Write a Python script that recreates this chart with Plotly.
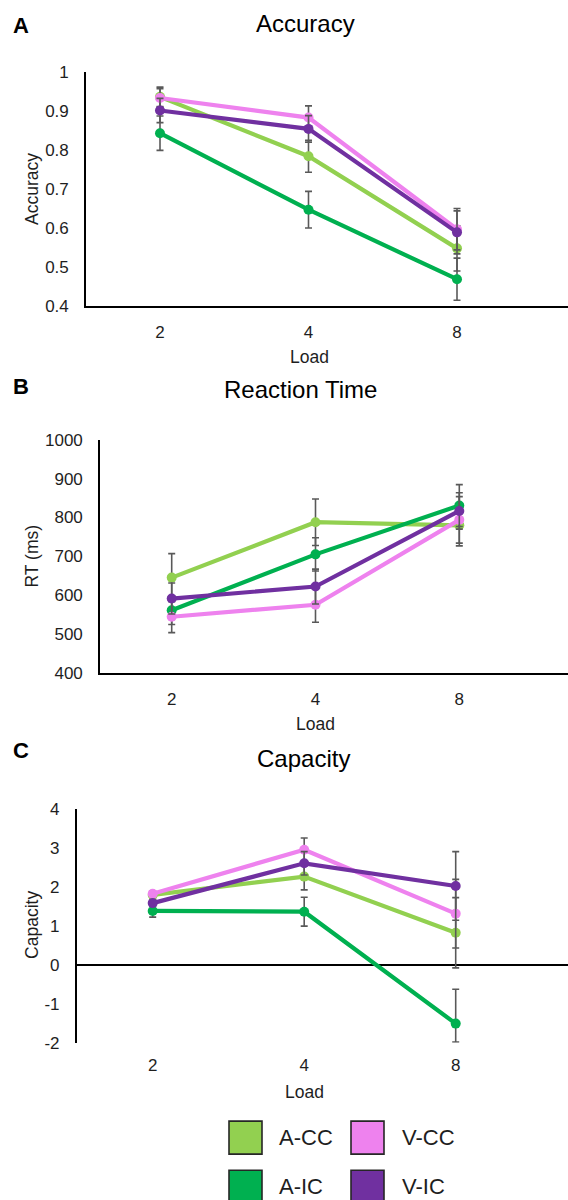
import plotly.graph_objects as go

W, H = 568, 1200
FONT = "Liberation Sans, Arial, sans-serif"
TXT = "#1e1e1e"

# ---------------- data ----------------
loads = ["2", "4", "8"]
series_names = ["A-CC", "A-IC", "V-CC", "V-IC"]
series_colors = ["#92D050", "#00B050", "#EE82EE", "#7030A0"]

acc_vals = {
    "A-CC": [0.936, 0.784, 0.548],
    "A-IC": [0.843, 0.647, 0.469],
    "V-CC": [0.933, 0.883, 0.597],
    "V-IC": [0.901, 0.854, 0.589],
}
acc_err = {
    "A-CC": [0.025, 0.041, 0.058],
    "A-IC": [0.044, 0.047, 0.054],
    "V-CC": [0.024, 0.030, 0.053],
    "V-IC": [0.031, 0.034, 0.055],
}
rt_vals = {
    "A-CC": [645, 788, 780],
    "A-IC": [561, 705, 831],
    "V-CC": [544, 575, 794],
    "V-IC": [591, 622, 817],
}
rt_err = {
    "A-CC": [62, 60, 53],
    "A-IC": [37, 43, 54],
    "V-CC": [41, 45, 60],
    "V-IC": [40, 45, 47],
}
cap_vals = {
    "A-CC": [1.79, 2.26, 0.82],
    "A-IC": [1.38, 1.36, -1.51],
    "V-CC": [1.82, 2.95, 1.31],
    "V-IC": [1.58, 2.60, 2.02],
}
cap_err_plus = {
    "A-CC": [0.10, 0.34, 0.90],
    "A-IC": [0.16, 0.37, 0.88],
    "V-CC": [0.05, 0.30, 0.88],
    "V-IC": [0.08, 0.30, 0.88],
}
cap_err_minus = {
    "A-CC": [0.10, 0.34, 0.90],
    "A-IC": [0.16, 0.37, 0.47],
    "V-CC": [0.05, 0.30, 0.88],
    "V-IC": [0.08, 0.30, 0.88],
}

acc_ticks = [0.4, 0.5, 0.6, 0.7, 0.8, 0.9, 1.0]
acc_ticktext = ["0.4", "0.5", "0.6", "0.7", "0.8", "0.9", "1"]
rt_ticks = [400, 500, 600, 700, 800, 900, 1000]
rt_ticktext = ["400", "500", "600", "700", "800", "900", "1000"]
cap_ticks = [-2, -1, 0, 1, 2, 3, 4]
cap_ticktext = ["-2", "-1", "0", "1", "2", "3", "4"]

panel_letters = ["A", "B", "C"]
panel_titles = ["Accuracy", "Reaction Time", "Capacity"]
y_titles = ["Accuracy", "RT (ms)", "Capacity"]
x_title = "Load"

# ---------------- layout geometry (pixels) ----------------
S = 0.983  # vertical calibration

def px(x):
    return x / W

def py(y):
    return 1 - (600 + (y - 600) / S) / H

# per panel: axis-left px, first category px, spacing px, top px, bottom px
geo = [
    dict(left=86, c0=160, sp=148.5, top=73, bot=307),
    dict(left=100, c0=171.7, sp=143.8, top=440.7, bot=673),
    dict(left=76.7, c0=152.7, sp=151.5, top=809, bot=1042.7),
]

fig = go.Figure()

datasets = [
    (acc_vals, acc_err, acc_err, [0.4, 1.0], acc_ticks, acc_ticktext),
    (rt_vals, rt_err, rt_err, [400, 1000], rt_ticks, rt_ticktext),
    (cap_vals, cap_err_plus, cap_err_minus, [-2, 4], cap_ticks, cap_ticktext),
]

xpos = list(range(len(loads)))

for i, (vals, ep, em, yr, tv, tt) in enumerate(datasets):
    ax = "" if i == 0 else str(i + 1)
    for name, col in zip(series_names, series_colors):
        fig.add_trace(go.Scatter(
            x=xpos, y=vals[name], mode="lines+markers", name=name,
            line=dict(color=col, width=4.2),
            marker=dict(color=col, size=10),
            error_y=dict(type="data", array=ep[name], arrayminus=em[name],
                         symmetric=False, color="#595959", thickness=1.6, width=3.5),
            xaxis="x" + ax, yaxis="y" + ax, showlegend=False,
        ))
    g = geo[i]
    xr_right = (W - g["c0"]) / g["sp"]
    xr_left = (g["left"] - g["c0"]) / g["sp"]
    is_cap = i == 2
    fig.update_layout(**{
        "xaxis" + ax: dict(
            domain=[px(g["left"]), 1.0], range=[xr_left, xr_right],
            tickvals=xpos, ticktext=loads, showline=not is_cap, linecolor="black",
            linewidth=1.6, showgrid=False, zeroline=False, ticks="",
            tickfont=dict(family=FONT, size=17, color=TXT),
            anchor="y" + ax, fixedrange=True, ticklabelstandoff=10,
        ),
        "yaxis" + ax: dict(
            domain=[py(g["bot"]), py(g["top"])], range=yr,
            tickvals=tv, ticktext=tt, showline=True, linecolor="black",
            linewidth=1.6, showgrid=False,
            zeroline=is_cap, zerolinecolor="black", zerolinewidth=1.6,
            ticks="", tickfont=dict(family=FONT, size=17, color=TXT),
            anchor="x" + ax, fixedrange=True, ticklabelstandoff=12,
        ),
    })

annotations = []
letter_y = [27, 387, 751]
title_xy = [(306, 25), (300, 390), (303, 759)]
ytitle_y = [190, 557, 925]
xtitle_xy = [(309, 358), (315.7, 724), (304, 1092)]
for i in range(3):
    annotations.append(dict(text="<b>%s</b>" % panel_letters[i], x=px(21), y=py(letter_y[i]),
                            xref="paper", yref="paper", showarrow=False,
                            xanchor="center", yanchor="middle",
                            font=dict(family=FONT, size=22, color="black")))
    annotations.append(dict(text=panel_titles[i], x=px(title_xy[i][0]), y=py(title_xy[i][1]),
                            xref="paper", yref="paper", showarrow=False,
                            xanchor="center", yanchor="middle",
                            font=dict(family=FONT, size=24, color="black")))
    annotations.append(dict(text=y_titles[i], x=px(32), y=py(ytitle_y[i]), textangle=-90,
                            xref="paper", yref="paper", showarrow=False,
                            xanchor="center", yanchor="middle",
                            font=dict(family=FONT, size=17.5, color=TXT)))
    annotations.append(dict(text=x_title, x=px(xtitle_xy[i][0]), y=py(xtitle_xy[i][1]),
                            xref="paper", yref="paper", showarrow=False,
                            xanchor="center", yanchor="middle",
                            font=dict(family=FONT, size=17.5, color=TXT)))

# legend (custom swatches)
legend_order = ["A-CC", "V-CC", "A-IC", "V-IC"]
box_x = [229, 351, 229, 351]
box_y = [1121, 1121, 1170, 1170]
text_x = [277, 400, 277, 400]
shapes = []
for name, bx, by, tx in zip(legend_order, box_x, box_y, text_x):
    col = series_colors[series_names.index(name)]
    shapes.append(dict(type="rect", xref="paper", yref="paper",
                       x0=px(bx), x1=px(bx + 33), y0=py(by + 33), y1=py(by),
                       fillcolor=col, line=dict(color="#262626", width=1.6)))
    annotations.append(dict(text=name, x=px(tx), y=py(by + 16.5), xref="paper", yref="paper",
                            showarrow=False, xanchor="left", yanchor="middle",
                            font=dict(family=FONT, size=22, color=TXT)))

fig.update_layout(
    width=W, height=H, margin=dict(l=0, r=0, t=0, b=0),
    paper_bgcolor="white", plot_bgcolor="white",
    annotations=annotations, shapes=shapes, showlegend=False,
)

fig.write_html("out.html", config={"displayModeBar": False})
